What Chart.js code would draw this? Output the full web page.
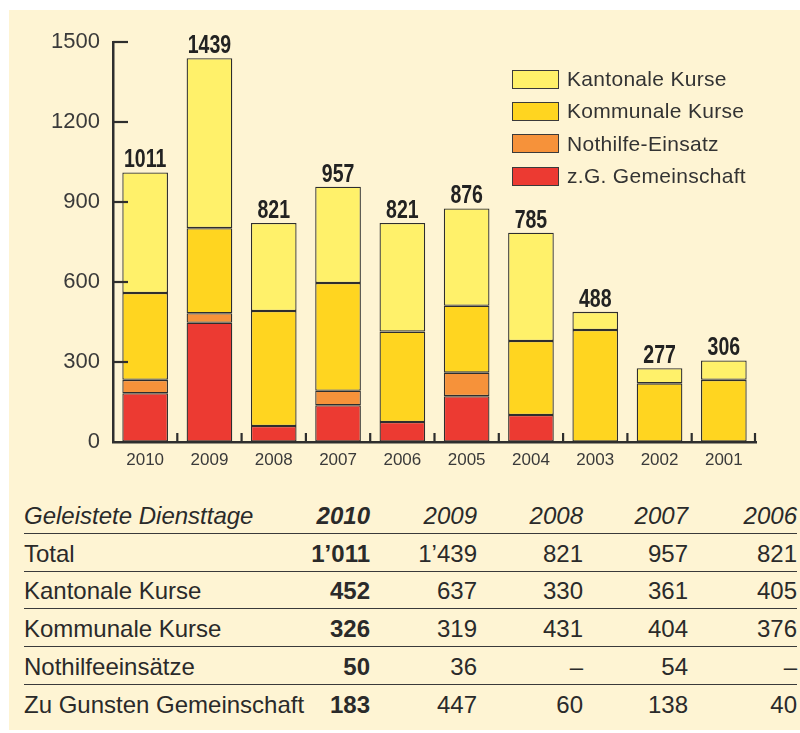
<!DOCTYPE html>
<html>
<head>
<meta charset="utf-8">
<script src="https://cdn.jsdelivr.net/npm/chart.js@4.4.1/dist/chart.umd.min.js"></script>
<style>
  body { margin: 0; background: #fff; font-family: "Liberation Sans", Arial, sans-serif; }
  #panel { position: absolute; left: 9px; top: 10px; width: 791px; height: 720px; background: #fef4d3; }
  #chartBox { position: absolute; left: 0; top: 0; width: 800px; height: 490px; }
  #legend { position: absolute; left: 512px; top: 63px; }
  .leg-row { display: flex; align-items: center; height: 32.3px; }
  .leg-box { width: 45px; height: 17px; border: 1.5px solid #3a3a3a; margin-right: 8px; }
  .leg-text { font-size: 21px; color: #333; letter-spacing: 0.3px; }
  #table { position: absolute; left: 24px; top: 496px; width: 773px; border-collapse: collapse; table-layout: fixed; font-size: 24px; color: #2a2a2a; }
  #table td { padding: 3px 0 0 0; height: 33.8px; text-align: right; white-space: nowrap; overflow: visible; }
  #table td:first-child { text-align: left; }
  #table tr { border-bottom: 1.5px solid #3a3a3a; }
  #table tr:last-child { border-bottom: none; }
  #table tr.head td { font-style: italic; }
  #table td.cur { font-weight: bold; }
</style>
</head>
<body>
<div id="panel"></div>
<div id="chartBox"><canvas id="dienstChart" width="800" height="490"></canvas></div>
<div id="legend"></div>
<table id="table">
  <colgroup>
    <col style="width:240px"><col style="width:106px"><col style="width:107px">
    <col style="width:106px"><col style="width:105px"><col style="width:109px">
  </colgroup>
  <tbody id="tbody"></tbody>
</table>
<script>
// Daten aus der Grafik
const years = ['2010', '2009', '2008', '2007', '2006', '2005', '2004', '2003', '2002', '2001'];
const kantonale = [452, 637, 330, 361, 407, 365, 406, 68, 57, 73];
const kommunale = [326, 319, 431, 404, 339, 251, 278, 420, 220, 233];
const nothilfe = [50, 36, null, 54, null, 88, null, null, null, null];
const gemeinschaft = [183, 447, 60, 138, 75, 172, 101, null, null, null];
const yTicks = [0, 300, 600, 900, 1200, 1500];

// Daten aus der Tabelle
const tableTitle = 'Geleistete Diensttage';
const tableYears = ['2010', '2009', '2008', '2007', '2006'];
const tableRows = [
    { label: 'Total', values: [1011, 1439, 821, 957, 821] },
    { label: 'Kantonale Kurse', values: [452, 637, 330, 361, 405] },
    { label: 'Kommunale Kurse', values: [326, 319, 431, 404, 376] },
    { label: 'Nothilfeeinsätze', values: [50, 36, null, 54, null] },
    { label: 'Zu Gunsten Gemeinschaft', values: [183, 447, 60, 138, 40] }
];

const edge = '#2e2e2e';

// Ticks nach innen + Summen über den Balken
const customDraw = {
    id: 'customDraw',
    afterDraw(chart) {
        const { ctx, chartArea } = chart;
        const x = chart.scales.x;
        const y = chart.scales.y;
        ctx.save();
        ctx.strokeStyle = edge;
        ctx.lineWidth = 2.2;
        yTicks.forEach(v => {
            const py = Math.round(y.getPixelForValue(v));
            if (v === 0) return;
            ctx.beginPath();
            ctx.moveTo(chartArea.left, py);
            ctx.lineTo(chartArea.left + 15, py);
            ctx.stroke();
        });
        for (let i = 0; i < years.length; i++) {
            const px = i < years.length - 1
                ? (x.getPixelForValue(i) + x.getPixelForValue(i + 1)) / 2
                : chartArea.right - 1;
            ctx.beginPath();
            ctx.moveTo(px, chartArea.bottom);
            ctx.lineTo(px, chartArea.bottom - 9);
            ctx.stroke();
        }

        ctx.fillStyle = '#222';
        ctx.font = 'bold 25px "Liberation Sans", Arial, sans-serif';
        ctx.textAlign = 'center';
        ctx.textBaseline = 'alphabetic';
        years.forEach((yr, i) => {
            let total = 0;
            chart.data.datasets.forEach(ds => { total += ds.data[i] || 0; });
            ctx.save();
            ctx.translate(x.getPixelForValue(i), y.getPixelForValue(total) - 5);
            ctx.scale(0.78, 1);
            ctx.fillText(String(total), 0, 0);
            ctx.restore();
        });
        ctx.restore();
    }
};

const datasets = [
    { label: 'z.G. Gemeinschaft', data: gemeinschaft, backgroundColor: '#ec3a32' },
    { label: 'Nothilfe-Einsatz', data: nothilfe, backgroundColor: '#f6923a' },
    { label: 'Kommunale Kurse', data: kommunale, backgroundColor: '#ffd520' },
    { label: 'Kantonale Kurse', data: kantonale, backgroundColor: '#fff16a' }
].map(ds => ({
    ...ds,
    borderColor: edge,
    borderWidth: 1.3,
    borderSkipped: false,
    categoryPercentage: 1,
    barPercentage: 0.71
}));

new Chart(document.getElementById('dienstChart'), {
    type: 'bar',
    data: { labels: years, datasets },
    options: {
        responsive: false,
        animation: false,
        layout: { padding: { top: 42, right: 44, left: 0, bottom: 0 } },
        plugins: { legend: { display: false }, tooltip: { enabled: false } },
        scales: {
            x: {
                stacked: true,
                afterFit: s => { s.height = 48; },
                grid: { drawOnChartArea: false, drawTicks: false },
                border: { color: edge, width: 2.5 },
                ticks: { color: '#3a3a3a', font: { size: 17, family: '"Liberation Sans", Arial' }, padding: 8 }
            },
            y: {
                stacked: true,
                min: 0,
                max: 1500,
                afterFit: s => { s.width = 113; },
                afterBuildTicks: s => { s.ticks = yTicks.map(v => ({ value: v })); },
                grid: { drawOnChartArea: false, drawTicks: false },
                border: { color: edge, width: 2.5 },
                ticks: {
                    color: '#3a3a3a',
                    font: { size: 22, family: '"Liberation Sans", Arial' },
                    padding: 13,
                    callback: v => String(v)
                }
            }
        }
    },
    plugins: [customDraw]
});

// Legende (umgekehrte Reihenfolge wie im Stapel)
const legend = document.getElementById('legend');
datasets.slice().reverse().forEach(ds => {
    const row = document.createElement('div');
    row.className = 'leg-row';
    row.innerHTML = `<div class="leg-box" style="background:${ds.backgroundColor}"></div><span class="leg-text">${ds.label}</span>`;
    legend.appendChild(row);
});

// Tabelle
const fmt = v => v == null ? '–' : (v >= 1000 ? Math.floor(v / 1000) + '’' + String(v % 1000).padStart(3, '0') : String(v));
const tbody = document.getElementById('tbody');
let html = `<tr class="head"><td>${tableTitle}</td>` +
    tableYears.map((yr, i) => `<td class="${i === 0 ? 'cur' : ''}">${yr}</td>`).join('') + '</tr>';
tableRows.forEach(r => {
    html += `<tr><td>${r.label}</td>` +
        r.values.map((v, i) => `<td class="${i === 0 ? 'cur' : ''}">${fmt(v)}</td>`).join('') + '</tr>';
});
tbody.innerHTML = html;
</script>
</body>
</html>
